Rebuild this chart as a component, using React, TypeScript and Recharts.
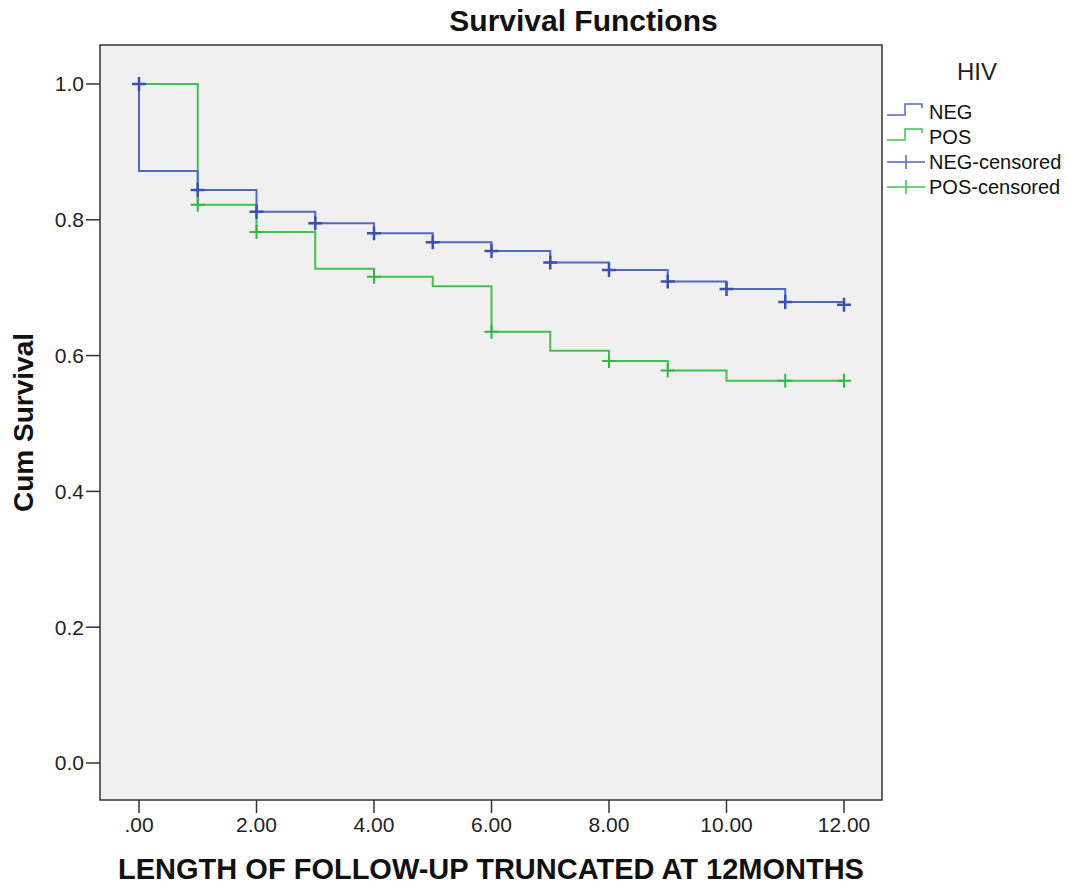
import {
  ComposedChart,
  Line,
  Scatter,
  XAxis,
  YAxis,
  ReferenceArea,
} from "recharts";

// Kaplan-Meier steps (time in months, cumulative survival)
const negTimes = [0, 0, 1, 2, 3, 4, 5, 6, 7, 8, 9, 10, 11, 12];
const negSurv = [1.0, 0.872, 0.844, 0.812, 0.795, 0.78, 0.767, 0.754, 0.737, 0.726, 0.709, 0.698, 0.679, 0.677];
const posTimes = [0, 1, 2, 3, 4, 5, 6, 7, 8, 9, 10, 12];
const posSurv = [1.0, 0.822, 0.782, 0.728, 0.716, 0.702, 0.635, 0.607, 0.592, 0.578, 0.563, 0.563];

// censored marks
const negCensTimes = [0, 1, 2, 3, 4, 5, 6, 7, 8, 9, 10, 11, 12];
const negCensSurv = [1.0, 0.844, 0.812, 0.795, 0.78, 0.767, 0.754, 0.737, 0.726, 0.709, 0.698, 0.679, 0.675];
const posCensTimes = [1, 2, 4, 6, 8, 9, 11, 12];
const posCensSurv = [0.822, 0.782, 0.716, 0.635, 0.592, 0.578, 0.563, 0.563];

const xTicks = [0, 2, 4, 6, 8, 10, 12];
const yTicks = [0, 0.2, 0.4, 0.6, 0.8, 1.0];

const FONT = "'Liberation Sans', Arial, sans-serif";
const NEG_LINE = "#5468c2";
const NEG_MARK = "#3a50ac";
const POS_LINE = "#40c150";
const POS_MARK = "#34b545";

const zip = (xs: number[], ys: number[]) => xs.map((x, i) => ({ x, y: ys[i] }));

const negData = zip(negTimes, negSurv);
const posData = zip(posTimes, posSurv);
const negCens = zip(negCensTimes, negCensSurv);
const posCens = zip(posCensTimes, posCensSurv);

const plus = (color: string, w: number) => (props: any) => {
  const { cx, cy } = props;
  return (
    <path
      d={`M${cx - 7},${cy}H${cx + 7}M${cx},${cy - 7}V${cy + 7}`}
      stroke={color}
      strokeWidth={w}
      fill="none"
    />
  );
};

function LegendBox() {
  const rows = [
    { label: "NEG", color: NEG_LINE, kind: "step" },
    { label: "POS", color: POS_LINE, kind: "step" },
    { label: "NEG-censored", color: NEG_LINE, kind: "plus" },
    { label: "POS-censored", color: POS_LINE, kind: "plus" },
  ];
  return (
    <svg width={185} height={170} style={{ position: "absolute", left: 882, top: 45 }}>
      <text x={95} y={35} fontSize={24} fill="#222" fontFamily={FONT} textAnchor="middle">
        HIV
      </text>
      {rows.map((r, i) => {
        const y = 67 + i * 25;
        return (
          <g key={r.label}>
            {r.kind === "step" ? (
              <path
                d={`M5,${y + 3}H23V${y - 8}H40V${y - 4}`}
                stroke={r.color}
                strokeWidth={1.5}
                fill="none"
              />
            ) : (
              <path
                d={`M5,${y}H43M24,${y - 7}V${y + 7}`}
                stroke={r.color}
                strokeWidth={1.5}
                fill="none"
              />
            )}
            <text x={47} y={y + 7} fontSize={20} fill="#111" fontFamily={FONT}>
              {r.label}
            </text>
          </g>
        );
      })}
    </svg>
  );
}

export default function App() {
  return (
    <div
      style={{
        position: "absolute",
        left: 0,
        top: 0,
        width: 1067,
        height: 886,
        background: "#fff",
        fontFamily: FONT,
      }}
    >
      <div
        style={{
          position: "absolute",
          left: 100,
          width: 967,
          top: 4,
          textAlign: "center",
          fontSize: 30,
          fontWeight: "bold",
          color: "#111",
        }}
      >
        Survival Functions
      </div>

      <ComposedChart
        width={1067}
        height={886}
        margin={{ top: 45, right: 185, left: 0, bottom: 0 }}
      >
        <XAxis
          dataKey="x"
          type="number"
          domain={[-0.664, 12.647]}
          allowDataOverflow
          ticks={xTicks}
          tickFormatter={(v: number) => (v === 0 ? ".00" : v.toFixed(2))}
          height={86}
          axisLine={false}
          tickSize={13}
          tickLine={{ stroke: "#333", strokeWidth: 1.5 }}
          tick={{ fontSize: 21, fill: "#222", fontFamily: FONT, dy: 2 }}
          label={{
            value: "LENGTH OF FOLLOW-UP TRUNCATED AT 12MONTHS",
            position: "insideBottom",
            offset: 7,
            style: { fontSize: 29, fontWeight: "bold", fill: "#111", fontFamily: FONT },
          }}
        />
        <YAxis
          type="number"
          domain={[-0.0545, 1.0574]}
          allowDataOverflow
          ticks={yTicks}
          tickFormatter={(v: number) => v.toFixed(1)}
          width={100}
          axisLine={false}
          tickSize={14}
          tickLine={{ stroke: "#333", strokeWidth: 1.5 }}
          tick={{ fontSize: 21, fill: "#222", fontFamily: FONT }}
          label={{
            value: "Cum Survival",
            angle: -90,
            position: "insideLeft",
            offset: 23,
            style: {
              fontSize: 28,
              fontWeight: "bold",
              fill: "#111",
              fontFamily: FONT,
              textAnchor: "middle",
            },
          }}
        />
        <ReferenceArea
          x1={-0.664}
          x2={12.647}
          y1={-0.0545}
          y2={1.0574}
          fill="#f0f0f0"
          fillOpacity={1}
          stroke="#333"
          strokeWidth={1.5}
        />
        <Line
          data={posData}
          dataKey="y"
          type="stepAfter"
          stroke={POS_LINE}
          strokeWidth={2}
          dot={false}
          isAnimationActive={false}
        />
        <Line
          data={negData}
          dataKey="y"
          type="stepAfter"
          stroke={NEG_LINE}
          strokeWidth={2}
          dot={false}
          isAnimationActive={false}
        />
        <Scatter data={posCens} dataKey="y" shape={plus(POS_MARK, 2)} isAnimationActive={false} />
        <Scatter data={negCens} dataKey="y" shape={plus(NEG_MARK, 2.5)} isAnimationActive={false} />
      </ComposedChart>

      <LegendBox />
    </div>
  );
}
